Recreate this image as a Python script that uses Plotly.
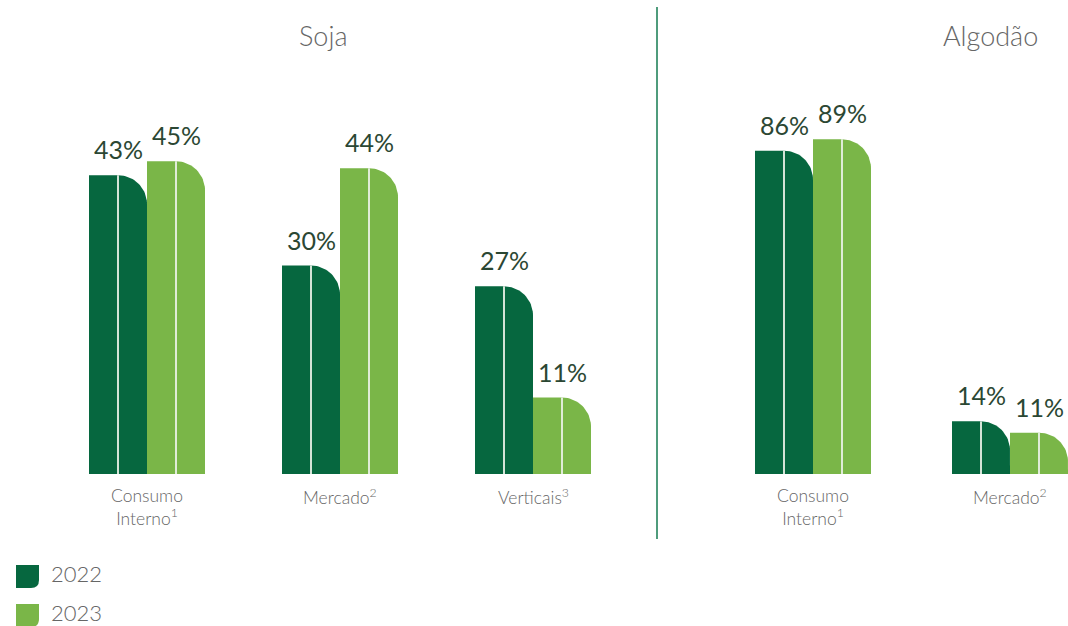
import math
import plotly.graph_objects as go

# ---------------- data ----------------
soja_categories = ["Consumo<br>Interno<sup>1</sup>", "Mercado<sup>2</sup>", "Verticais<sup>3</sup>"]
soja_2022 = [43, 30, 27]
soja_2023 = [45, 44, 11]

algodao_categories = ["Consumo<br>Interno<sup>1</sup>", "Mercado<sup>2</sup>"]
algodao_2022 = [86, 14]
algodao_2023 = [89, 11]

years = ["2022", "2023"]
panel_titles = ["Soja", "Algodão"]

# ---------------- style / layout constants ----------------
W, H = 1068, 626
DARK = "#06673f"
LIGHT = "#7ab648"
LABEL_COLOR = "#2b4733"
GRAY = "#666666"
FONT = "Lato"
WEIGHT = 300

BASE_PX = 474            # baseline pixel row
BAR_W_PX = 58            # width of one bar
R_PX = 29                # corner radius

# panel geometry: (x domain, first group center px, group spacing px, px per %)
panels = {
    "soja": dict(dom=(0.0, 0.60), c0=147, step=193, ppu=6.95, xa="x", ya="y"),
    "alg": dict(dom=(0.62, 1.0), c0=813, step=197, ppu=3.76, xa="x2", ya="y2"),
}
ydom = ((H - BASE_PX) / H, 1.0)

fig = go.Figure()


def panel_ranges(p):
    d0, d1 = p["dom"][0] * W, p["dom"][1] * W
    xmin = -(p["c0"] - d0) / p["step"]
    xmax = (d1 - p["c0"]) / p["step"]
    ymax = BASE_PX / p["ppu"]
    return [xmin, xmax], [0, ymax]


def bar_path(x0, x1, v, rx, ry, n=24):
    xs = [x0, x0, x1 - rx]
    ys = [0, v, v]
    for i in range(1, n + 1):
        t = math.pi / 2 * (1 - i / n)
        xs.append(x1 - rx + rx * math.cos(t))
        ys.append(v - ry + ry * math.sin(t))
    xs += [x1, x0]
    ys += [0, 0]
    return xs, ys


def draw_panel(key, cats, v22, v23):
    p = panels[key]
    w = BAR_W_PX / p["step"]
    rx = R_PX / p["step"]
    ry = R_PX / p["ppu"]
    for i, cat in enumerate(cats):
        c = i
        for j, (vals, col) in enumerate(((v22, DARK), (v23, LIGHT))):
            v = vals[i]
            x0 = c - w if j == 0 else c
            x1 = x0 + w
            xs, ys = bar_path(x0, x1, v, rx, ry)
            fig.add_trace(go.Scatter(
                x=xs, y=ys, mode="lines", fill="toself", fillcolor=col,
                line=dict(width=0, color=col), xaxis=p["xa"], yaxis=p["ya"],
                hoverinfo="skip", showlegend=False, name=years[j]))
            xm = (x0 + x1) / 2
            fig.add_trace(go.Scatter(
                x=[xm, xm], y=[0, v], mode="lines",
                line=dict(width=2, color="rgba(235,242,232,0.9)"),
                xaxis=p["xa"], yaxis=p["ya"], hoverinfo="skip", showlegend=False))
            fig.add_annotation(
                x=xm, y=v, xref=p["xa"], yref=p["ya"], text=f"{v}%",
                showarrow=False, yanchor="bottom", yshift=9,
                font=dict(family=FONT, size=25, color=LABEL_COLOR, weight=400))
        fig.add_annotation(
            x=c, y=0, xref=p["xa"], yref=p["ya"], text=cat, showarrow=False,
            yanchor="top", yshift=-9, align="center",
            font=dict(family=FONT, size=17.5, color=GRAY, weight=WEIGHT))


draw_panel("soja", soja_categories, soja_2022, soja_2023)
draw_panel("alg", algodao_categories, algodao_2022, algodao_2023)

for key, xname, yname in (("soja", "xaxis", "yaxis"), ("alg", "xaxis2", "yaxis2")):
    xr, yr = panel_ranges(panels[key])
    fig.layout[xname] = dict(domain=list(panels[key]["dom"]), range=xr, visible=False,
                             fixedrange=True, anchor=panels[key]["ya"])
    fig.layout[yname] = dict(domain=list(ydom), range=yr, visible=False,
                             fixedrange=True, anchor=panels[key]["xa"])

# panel titles
for title, xpx in zip(panel_titles, (323, 990)):
    fig.add_annotation(x=xpx / W, y=1 - 35 / H, xref="paper", yref="paper", text=title,
                       showarrow=False, xanchor="center", yanchor="middle",
                       font=dict(family=FONT, size=27, color=GRAY, weight=WEIGHT))

# divider
fig.add_shape(type="line", xref="paper", yref="paper", x0=657 / W, x1=657 / W,
              y0=1 - 7 / H, y1=1 - 539 / H, line=dict(color="#4f9c7c", width=2))


# legend (manual)
def px(x, y):
    return f"{x / W},{1 - y / H}"


for k, (yr_, col) in enumerate(zip(years, (DARK, LIGHT))):
    top = 565 + k * 39
    l, r, b = 16, 39, top + 23
    rr = 8
    path = (f"M {px(l, top)} L {px(r, top)} L {px(r, b - rr)} "
            f"Q {px(r, b)} {px(r - rr, b)} L {px(l, b)} Z")
    fig.add_shape(type="path", xref="paper", yref="paper", path=path,
                  fillcolor=col, line=dict(width=0))
    fig.add_annotation(x=49 / W, y=1 - (top + 8) / H, xref="paper", yref="paper",
                       text=yr_, showarrow=False, xanchor="left", yanchor="middle",
                       font=dict(family=FONT, size=22, color=GRAY, weight=WEIGHT))

fig.update_layout(
    width=W, height=H, margin=dict(l=0, r=0, t=0, b=0),
    paper_bgcolor="white", plot_bgcolor="white", showlegend=False,
    hovermode=False,
)

fig.write_html("out.html", config={"displayModeBar": False},
               post_script="document.body.style.margin='0';document.body.style.overflow='hidden';")
